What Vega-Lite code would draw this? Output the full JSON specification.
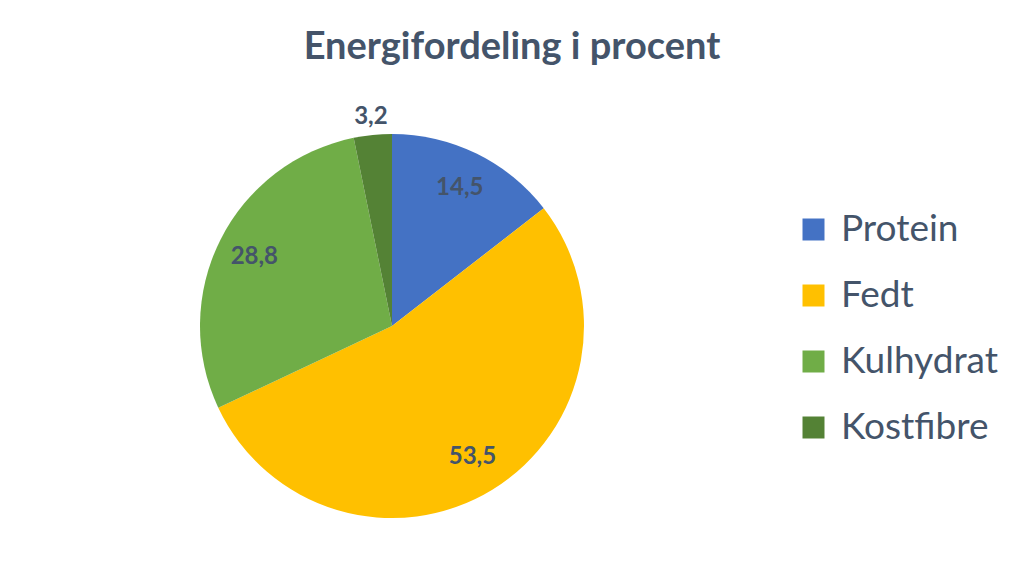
{
  "$schema": "https://vega.github.io/schema/vega-lite/v6.json",
  "width": 784,
  "height": 512,
  "autosize": {"type": "none"},
  "padding": {"left": 0, "top": 70, "right": 240, "bottom": 0},
  "background": "white",
  "title": {
    "text": "Energifordeling i procent",
    "font": "Lato",
    "fontSize": 38,
    "fontWeight": "bold",
    "color": "#44546A",
    "anchor": "middle",
    "dx": 120,
    "offset": 3
  },
  "data": {
    "values": [
      {"kategori": "Protein", "procent": 14.5, "label": "14,5", "idx": 1},
      {"kategori": "Fedt", "procent": 53.5, "label": "53,5", "idx": 2},
      {"kategori": "Kulhydrat", "procent": 28.8, "label": "28,8", "idx": 3},
      {"kategori": "Kostfibre", "procent": 3.2, "label": "3,2", "idx": 4}
    ]
  },
  "transform": [
    {"stack": "procent", "groupby": [], "sort": [{"field": "idx", "order": "ascending"}], "as": ["start", "end"]},
    {"calculate": "(datum.start + datum.end) / 2", "as": "mid"}
  ],
  "layer": [
    {
      "mark": {"type": "arc", "outerRadius": 192, "strokeWidth": 0},
      "encoding": {
        "theta": {"field": "start", "type": "quantitative", "stack": null, "scale": {"domain": [0, 100]}},
        "theta2": {"field": "end"},
        "color": {
          "field": "kategori",
          "type": "nominal",
          "sort": ["Protein", "Fedt", "Kulhydrat", "Kostfibre"],
          "scale": {
            "domain": ["Protein", "Fedt", "Kulhydrat", "Kostfibre"],
            "range": ["#4472C4", "#FFC000", "#70AD47", "#548235"]
          },
          "legend": {
            "title": null,
            "orient": "none",
            "legendX": 795,
            "legendY": 141,
            "symbolType": "square",
            "symbolSize": 484,
            "symbolStrokeWidth": 0,
            "labelFont": "Lato",
            "labelFontSize": 37,
            "labelColor": "#44546A",
            "labelOffset": 9,
            "rowPadding": 28,
            "labelLimit": 300
          }
        }
      }
    },
    {
      "transform": [{"filter": "datum.idx < 4"}],
      "mark": {"type": "text", "font": "Lato", "fontSize": 24, "fontWeight": "bold", "color": "#44546A", "radius": 154},
      "encoding": {
        "theta": {"field": "mid", "type": "quantitative", "stack": null, "scale": {"domain": [0, 100]}},
        "text": {"field": "label", "type": "nominal"}
      }
    },
    {
      "transform": [{"filter": "datum.idx == 4"}],
      "mark": {"type": "text", "font": "Lato", "fontSize": 24, "fontWeight": "bold", "color": "#44546A", "radius": 210},
      "encoding": {
        "theta": {"field": "mid", "type": "quantitative", "stack": null, "scale": {"domain": [0, 100]}},
        "text": {"field": "label", "type": "nominal"}
      }
    }
  ],
  "config": {"view": {"stroke": null}}
}
